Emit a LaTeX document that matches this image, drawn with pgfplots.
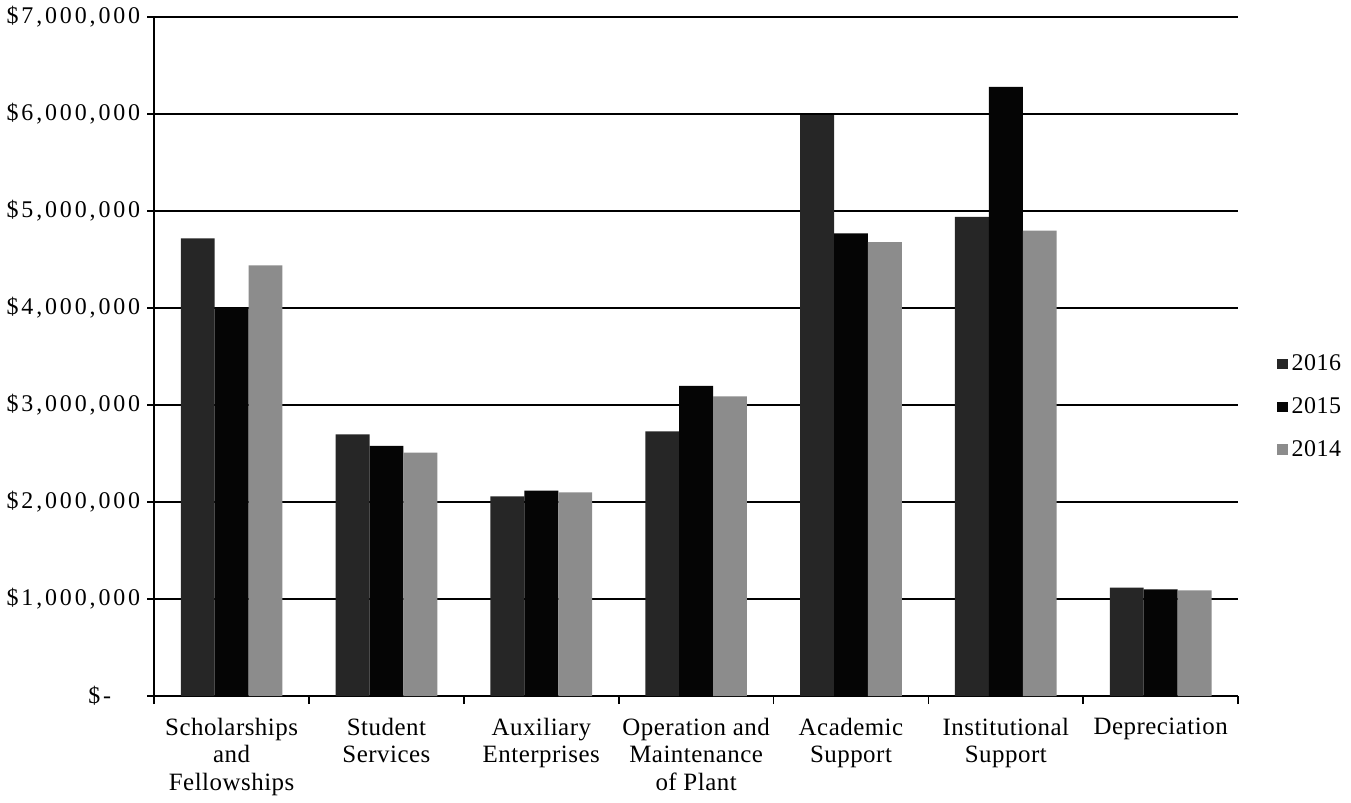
\documentclass[border=0pt]{standalone}
\usepackage{pgfplots}
\pgfplotsset{compat=1.18}
\usepackage{fontspec}
\setmainfont{Liberation Serif}
\definecolor{cA}{RGB}{38,38,38}
\definecolor{cB}{RGB}{5,5,5}
\definecolor{cC}{RGB}{140,140,140}
\begin{document}
\begin{tikzpicture}
\begin{axis}[
  scale only axis, width=543.5pt, height=340.5pt,
  ybar=0pt, bar width=17pt,
  xmin=-0.5, xmax=6.5, ymin=0, ymax=7000000,
  scaled y ticks=false,
  axis lines*=left,
  axis line style={black, line width=0.8pt},
  tick align=outside,
  xtick={0,...,6},
  xticklabels={{Scholarships\\and\\Fellowships},{Student\\Services},{Auxiliary\\Enterprises},{Operation and\\Maintenance\\of Plant},{Academic\\Support},{Institutional\\Support},{Depreciation}},
  x tick label style={align=center, font=\fontsize{12.5}{13.8}\selectfont\addfontfeatures{LetterSpace=2}, yshift=-4pt},
  major x tick style={draw=none},
  minor xtick={-0.5,0.5,...,6.5},
  minor x tick style={black, line width=0.8pt},
  minor tick length=4pt,
  ytick={0,1000000,...,7000000},
  yticklabels={{\makebox[26pt][l]{\$-}},{\$1,000,000},{\$2,000,000},{\$3,000,000},{\$4,000,000},{\$5,000,000},{\$6,000,000},{\$7,000,000}},
  y tick label style={font=\fontsize{12}{13}\selectfont\addfontfeatures{LetterSpace=12}},
  major y tick style={black, line width=0.8pt},
  major tick length=3.5pt,
  ymajorgrids, grid style={black, line width=0.8pt},
  legend style={draw=none, at={(1.03,0.426)}, anchor=west, font=\fontsize{12}{14}\selectfont\addfontfeatures{LetterSpace=2}, row sep=8pt, legend cell align=left},
  legend image code/.code={\path[#1] (0pt,-2.7pt) rectangle (5.4pt,2.7pt);},
]
\addplot[fill=cA, draw=none] coordinates {(0,4720000) (1,2700000) (2,2060000) (3,2730000) (4,5990000) (5,4940000) (6,1120000)};
\addplot[fill=cB, draw=none] coordinates {(0,4000000) (1,2580000) (2,2120000) (3,3200000) (4,4770000) (5,6280000) (6,1100000)};
\addplot[fill=cC, draw=none] coordinates {(0,4440000) (1,2510000) (2,2100000) (3,3090000) (4,4680000) (5,4800000) (6,1090000)};
\legend{2016,2015,2014}
\end{axis}
\end{tikzpicture}
\end{document}
